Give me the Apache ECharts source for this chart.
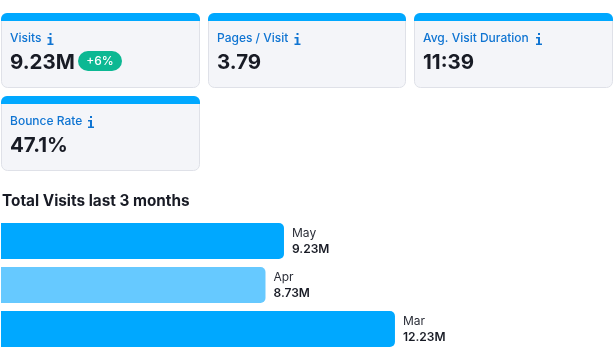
<!DOCTYPE html>
<html>
<head>
<meta charset="utf-8">
<title>Total Visits</title>
<style>
  html, body { margin: 0; padding: 0; background: #fff; }
  #chart { width: 616px; height: 359px; }
</style>
<script src="https://cdn.jsdelivr.net/npm/echarts@6/dist/echarts.min.js"></script>
</head>
<body>
<div id="chart"></div>
<script>
const cardTitles = ['Visits', 'Pages / Visit', 'Avg. Visit Duration', 'Bounce Rate']
const cardValues = ['9.23M', '3.79', '11:39', '47.1%']
const visitsChange = '+6%'

const months = ['May', 'Apr', 'Mar']
const visits = [9.23, 8.73, 12.23]

const BLUE = '#00a8ff'
const LIGHT_BLUE = '#66c9ff'
const LINK_BLUE = '#0f74d2'
const INK = '#181b25'

// little serif "i" next to the card titles
const INFO_STEM = [[0, 4], [4, 4], [4, 10.5], [6, 10.5], [6, 12], [0, 12], [0, 10.5], [2, 10.5], [2, 5.5], [0, 5.5]]

// card boxes, same order as cardTitles
const cardBoxes = [
  { x: 1, y: 13, w: 199, h: 75, iconX: 47.5 },
  { x: 208, y: 13, w: 198, h: 75, iconX: 294.5 },
  { x: 414, y: 13, w: 199, h: 75, iconX: 536 },
  { x: 1, y: 96, w: 199, h: 75, iconX: 88 }
]

const graphics = []
cardBoxes.forEach(function(box, i) {
  // grey body
  graphics.push({
    type: 'rect',
    shape: { x: box.x + 0.5, y: box.y + 0.5, width: box.w - 1, height: box.h - 1, r: 6 },
    style: { fill: '#f4f5f9', stroke: '#dfe1e8', lineWidth: 1 }
  })
  // blue strip on top
  graphics.push({
    type: 'rect',
    shape: { x: box.x, y: box.y, width: box.w, height: 8, r: [6, 6, 0, 0] },
    style: { fill: BLUE }
  })
  graphics.push({
    type: 'text',
    x: box.x + 9,
    y: box.y + 25,
    style: {
      text: cardTitles[i],
      font: '500 12px Inter',
      fill: LINK_BLUE,
      textVerticalAlign: 'middle'
    }
  })
  graphics.push({
    type: 'rect',
    x: box.iconX,
    y: box.y + 20,
    shape: { x: 2, y: 0, width: 2, height: 2 },
    style: { fill: LINK_BLUE }
  })
  graphics.push({
    type: 'polygon',
    x: box.iconX,
    y: box.y + 20,
    shape: { points: INFO_STEM },
    style: { fill: LINK_BLUE }
  })
  graphics.push({
    type: 'text',
    x: box.x + 9,
    y: box.y + 50,
    style: {
      text: cardValues[i],
      font: '700 20.5px Inter',
      fill: INK,
      textVerticalAlign: 'middle'
    }
  })
})

// +6% pill on the first card
graphics.push({
  type: 'rect',
  shape: { x: 78, y: 51, width: 44, height: 20, r: 10 },
  style: { fill: '#0cb893' }
})
graphics.push({
  type: 'text',
  x: 100,
  y: 61,
  style: {
    text: visitsChange,
    font: '500 12px Inter',
    fill: '#fff',
    textAlign: 'center',
    textVerticalAlign: 'middle'
  }
})

const chart = echarts.init(document.getElementById('chart'), null, { renderer: 'canvas' })
chart.setOption({
  animation: false,
  title: {
    text: 'Total Visits last 3 months',
    left: 2,
    top: 194,
    padding: 0,
    textStyle: { fontFamily: 'Inter', fontSize: 15.3, fontWeight: 700, color: INK }
  },
  grid: { left: 1, top: 219, width: 600, height: 132 },
  xAxis: {
    type: 'value',
    // bars are not zero based in the original
    min: 1.58,
    max: 17.8,
    show: false
  },
  yAxis: {
    type: 'category',
    data: months,
    inverse: true,
    show: false
  },
  series: [
    {
      type: 'bar',
      barWidth: 36,
      data: visits.map(function(v, i) {
        return {
          value: v,
          itemStyle: { color: i === 1 ? LIGHT_BLUE : BLUE, borderRadius: [0, 5, 5, 0] }
        }
      }),
      label: {
        show: true,
        position: 'right',
        distance: 8,
        formatter: function(p) {
          return '{m|' + months[p.dataIndex] + '}\n{v|' + p.value + 'M}'
        },
        rich: {
          m: { fontFamily: 'Inter', fontSize: 12, color: '#2b2e38', lineHeight: 16 },
          v: { fontFamily: 'Inter', fontSize: 12, fontWeight: 600, color: INK, lineHeight: 16 }
        }
      }
    }
  ],
  graphic: graphics
})
</script>
</body>
</html>
